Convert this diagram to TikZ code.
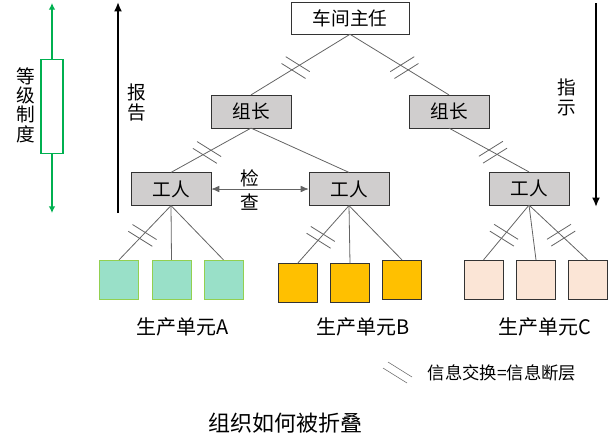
\documentclass[tikz,border=0pt]{standalone}
\usepackage{fontspec}
\setmainfont{Noto Sans CJK SC}
\usetikzlibrary{arrows.meta,decorations.markings}
\definecolor{boxgray}{RGB}{208,206,206}
\definecolor{unitgreen}{RGB}{153,224,200}
\definecolor{unitgreenline}{RGB}{146,208,80}
\definecolor{unitorange}{RGB}{255,192,0}
\definecolor{unitpink}{RGB}{251,229,214}
\definecolor{rankgreen}{RGB}{0,176,80}
\definecolor{linkgray}{RGB}{100,100,100}
\tikzset{
  cutl/.style={postaction={decorate}, decoration={markings, mark=at position .55 with {
      \pgftransformresetnontranslations
      \draw[linkgray] (-9.9,-10.9) -- (14.1,4.1);
      \draw[linkgray] (-14.1,-4.1) -- (9.9,10.9);}}},
  cutr/.style={postaction={decorate}, decoration={markings, mark=at position .55 with {
      \pgftransformresetnontranslations
      \draw[linkgray] (9.9,-10.9) -- (-14.1,4.1);
      \draw[linkgray] (14.1,-4.1) -- (-9.9,10.9);}}}
}
\begin{document}
\begin{tikzpicture}[x=0.75pt, y=-0.75pt,
    every node/.style={font=\fontsize{14}{17}\selectfont},
    head/.style={draw=black!80, fill=white, minimum width=88.5pt, minimum height=24pt, inner sep=0pt},
    boss/.style={draw=black!80, fill=boxgray, minimum width=60pt, minimum height=24.5pt, inner sep=0pt},
    unit/.style={minimum width=29pt, minimum height=29pt, inner sep=0pt},
    unita/.style={unit, draw=unitgreenline, fill=unitgreen},
    unitb/.style={unit, draw=black!80, fill=unitorange},
    unitc/.style={unit, draw=black!80, fill=unitpink},
    link/.style={draw=linkgray, line width=0.6pt},
    vtext/.style={align=center, font=\fontsize{14}{14.5}\selectfont},
    bigarrow/.style={line width=1.8pt, -{Latex[length=7pt,width=6pt]}}]
  \useasboundingbox (0,0) rectangle (613,437);

  % hierarchy
  \node[head] (head) at (350,18) {车间主任};
  \node[boss] (l1) at (251,111.5) {组长};
  \node[boss] (l2) at (449,111.5) {组长};
  \node[boss] (w1) at (171,189) {工人};
  \node[boss] (w2) at (349,189) {工人};
  \node[boss] (w3) at (529,188.5) {工人};

  % production units
  \node[unita] (a1) at (119,279.5) {};
  \node[unita] (a2) at (171.5,279.5) {};
  \node[unita] (a3) at (223.5,279.5) {};
  \node[unitb] (b1) at (297.5,283) {};
  \node[unitb] (b2) at (350,283) {};
  \node[unitb] (b3) at (402,279.5) {};
  \node[unitc] (c1) at (483.5,279.5) {};
  \node[unitc] (c2) at (536,279.5) {};
  \node[unitc] (c3) at (587.5,279.5) {};

  \draw[link, cutl] (head.south) -- (l1.north);
  \draw[link, cutr] (head.south) -- (l2.north);
  \draw[link, cutl] (l1.south) -- (w1.north);
  \draw[link] (l1.south) -- (w2.north);
  \draw[link, cutr] (l2.south) -- (w3.north);

  \draw[link, cutl] (w1.south) -- (a1.north);
  \draw[link] (w1.south) -- (a2.north);
  \draw[link] (w1.south) -- (a3.north);
  \draw[link, cutl] (w2.south) -- (b1.north);
  \draw[link] (w2.south) -- (b2.north);
  \draw[link] (w2.south) -- (b3.north);
  \draw[link, cutl] (w3.south) -- (c1.north);
  \draw[link] (w3.south) -- (c2.north);
  \draw[link, cutr] (w3.south) -- (c3.north);

  % check between workers
  \draw[link, {Latex[length=6pt,width=5pt]}-{Latex[length=6pt,width=5pt]}] (w1.east) -- (w2.west);
  \node[align=center, font=\fontsize{14}{18}\selectfont] (check) at (250,190) {检\\查};

  % rank axis
  \node[draw=rankgreen, fill=white, line width=0.8pt, minimum width=16.5pt, minimum height=70pt, inner sep=0pt] (rank) at (52,106.5) {};
  \coordinate (rtop) at (52,3);
  \coordinate (rbot) at (52,213);
  \draw[rankgreen, line width=1.4pt, -{Latex[length=5pt,width=5pt]}] (rank.north) -- (rtop);
  \draw[rankgreen, line width=1.4pt, -{Latex[length=5pt,width=5pt]}] (rank.south) -- (rbot);
  \node[vtext] (ranktxt) at (26,105) {等\\级\\制\\度};

  % report and order
  \coordinate (rp1) at (118,213);
  \coordinate (rp2) at (118,2);
  \draw[bigarrow] (rp1) -- (rp2);
  \node[vtext] (report) at (137,102.5) {报\\告};
  \coordinate (od1) at (596,3);
  \coordinate (od2) at (596,207);
  \draw[bigarrow] (od1) -- (od2);
  \node[vtext] (order) at (567,97.5) {指\\示};

  % captions
  \node[font=\fontsize{15}{18}\selectfont] (capa) at (183,327) {生产单元A};
  \node[font=\fontsize{15}{18}\selectfont] (capb) at (363,327) {生产单元B};
  \node[font=\fontsize{15}{18}\selectfont] (capc) at (545,327) {生产单元C};

  % legend
  \draw[linkgray] (388,362) -- (412,377);
  \draw[linkgray] (383,368) -- (407,383);
  \node[font=\fontsize{13}{16}\selectfont, anchor=west] (legend) at (423,373) {信息交换=信息断层};

  \node[font=\fontsize{16.5}{20}\selectfont] (title) at (285,423) {组织如何被折叠};
\end{tikzpicture}
\end{document}
